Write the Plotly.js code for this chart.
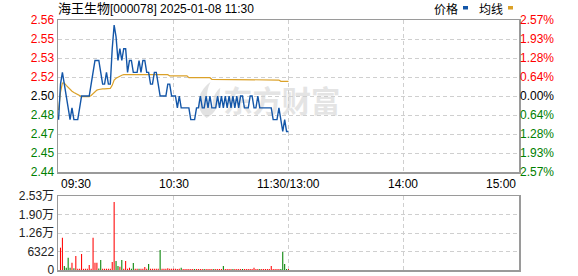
<!DOCTYPE html>
<html>
<head>
<meta charset="utf-8">
<script src="https://cdn.plot.ly/plotly-3.0.1.min.js"></script>
<style>
  html, body { margin: 0; padding: 0; background: #fff; }
  #chart { width: 578px; height: 276px; }
</style>
</head>
<body>
<div id="chart"></div>
<script>
// 海王生物 intraday minute chart, morning session 09:30-11:30
const stockName = '海王生物';
const stockCode = '000078';
const stamp = '2025-01-08 11:30';

const preClose = 2.50;   // previous close, centre line of the price panel
const maxPct = 2.57;     // half-range of the price panel, in percent

// last price for each minute from 09:30 (index 0) to 11:30 (index 120)
const price = [
  2.48, 2.51, 2.52, 2.51, 2.50, 2.49, 2.48, 2.49, 2.48, 2.48,
  2.48, 2.49, 2.50, 2.50, 2.50, 2.50, 2.50, 2.51, 2.52, 2.53,
  2.53, 2.53, 2.52, 2.51, 2.51, 2.52, 2.51, 2.51, 2.54, 2.56,
  2.55, 2.53, 2.54, 2.53, 2.54, 2.54, 2.52, 2.53, 2.53, 2.52,
  2.52, 2.52, 2.53, 2.52, 2.53, 2.53, 2.52, 2.52, 2.51, 2.51,
  2.52, 2.52, 2.51, 2.50, 2.50, 2.50, 2.50, 2.51, 2.51, 2.50,
  2.50, 2.50, 2.49, 2.50, 2.49, 2.49, 2.49, 2.49, 2.49, 2.48,
  2.48, 2.48, 2.49, 2.49, 2.50, 2.49, 2.49, 2.50, 2.49, 2.50,
  2.49, 2.49, 2.49, 2.50, 2.49, 2.50, 2.49, 2.50, 2.49, 2.50,
  2.49, 2.50, 2.49, 2.50, 2.49, 2.50, 2.50, 2.49, 2.49, 2.49,
  2.50, 2.50, 2.49, 2.49, 2.50, 2.49, 2.49, 2.49, 2.49, 2.49,
  2.49, 2.49, 2.48, 2.48, 2.48, 2.49, 2.48, 2.47, 2.48, 2.47,
  2.47
];

// running average price (均线) for the same minutes
const avgPrice = [
  2.488, 2.503, 2.511, 2.511, 2.509, 2.507, 2.505, 2.504, 2.503, 2.502,
  2.501, 2.500, 2.4995, 2.4995, 2.4995, 2.4995, 2.4995, 2.5005, 2.502, 2.5035,
  2.505, 2.5055, 2.506, 2.506, 2.506, 2.506, 2.506, 2.5065, 2.509, 2.5135,
  2.515, 2.516, 2.5168, 2.5175, 2.518, 2.518, 2.518, 2.518, 2.518, 2.518,
  2.518, 2.518, 2.518, 2.518, 2.518, 2.518, 2.518, 2.518, 2.518, 2.518,
  2.518, 2.518, 2.518, 2.518, 2.518, 2.518, 2.518, 2.518, 2.517, 2.517,
  2.517, 2.517, 2.517, 2.517, 2.517, 2.517, 2.517, 2.517, 2.5155, 2.5155,
  2.5155, 2.5155, 2.5155, 2.5155, 2.5155, 2.5155, 2.5155, 2.5155, 2.5155, 2.5155,
  2.5141, 2.5141, 2.5141, 2.5141, 2.5141, 2.5141, 2.5141, 2.5141, 2.5141, 2.5141,
  2.5141, 2.5141, 2.5141, 2.5141, 2.5141, 2.5141, 2.5141, 2.5141, 2.5141, 2.5141,
  2.5141, 2.5141, 2.5141, 2.5135, 2.5135, 2.5135, 2.5135, 2.5135, 2.5135, 2.5135,
  2.5135, 2.5135, 2.5135, 2.5135, 2.5135, 2.5135, 2.5124, 2.5124, 2.5124, 2.5124,
  2.5124
];

// traded volume per minute (shares ×100)
const volume = [
  0, 7630, 11040, 1370, 800, 4215, 800, 2500, 600, 4780,
  450, 400, 5470, 400, 400, 400, 1710, 400, 11040, 2500,
  2500, 500, 3420, 400, 400, 400, 400, 400, 2730, 23240,
  3075, 1370, 1140, 3420, 400, 3075, 400, 800, 400, 2390,
  400, 400, 400, 400, 400, 1025, 400, 2050, 400, 400,
  400, 400, 400, 6830, 400, 400, 400, 600, 400, 400,
  400, 400, 350, 400, 800, 350, 350, 350, 350, 350,
  350, 350, 350, 350, 350, 350, 350, 350, 350, 350,
  350, 350, 350, 350, 350, 350, 1370, 350, 350, 350,
  350, 350, 350, 350, 350, 350, 350, 350, 350, 350,
  350, 350, 800, 350, 350, 350, 350, 350, 350, 350,
  350, 1370, 350, 350, 350, 350, 350, 6150, 2050, 350,
  350
];

// tick direction of each minute: 1 = up (red), -1 = down (green)
const tickDir = [
  1, 1, 1, -1, -1, -1, -1, 1, -1, 1,
  1, 1, 1, 1, 1, 1, 1, 1, 1, 1,
  1, -1, -1, 1, 1, 1, 1, 1, 1, 1,
  -1, -1, 1, -1, 1, 1, 1, 1, -1, -1,
  1, 1, -1, 1, 1, 1, 1, -1, 1, 1,
  1, 1, 1, -1, 1, 1, 1, 1, 1, 1,
  1, 1, 1, 1, -1, 1, 1, 1, 1, 1,
  1, -1, 1, 1, 1, 1, -1, 1, 1, 1,
  1, -1, 1, 1, 1, 1, -1, 1, 1, 1,
  1, -1, 1, 1, 1, 1, -1, 1, 1, 1,
  1, 1, 1, 1, 1, -1, 1, 1, 1, 1,
  1, 1, 1, 1, 1, 1, -1, -1, -1, -1,
  1
];

// left-axis price labels, top to bottom
const priceLabels = ['2.56', '2.55', '2.53', '2.52', '2.50', '2.48', '2.47', '2.45', '2.44'];
// right-axis change labels, top to bottom
const pctLabels = ['2.57%', '1.93%', '1.28%', '0.64%', '0.00%', '0.64%', '1.28%', '1.93%', '2.57%'];
// volume axis labels, bottom to top
const volLabels = ['0', '6322', '1.26万', '1.90万', '2.53万'];
const volStep = 6322;
// time labels along the session axis (minutes from 09:30)
const timeLabels = ['09:30', '10:30', '11:30/13:00', '14:00', '15:00'];
const timeMinutes = [0, 60, 120, 180, 240];

const RED = '#ff0000';
const GREEN = '#008000';
const BLACK = '#000000';
const PRICE_BLUE = '#1356a8';
const AVG_GOLD = '#dba128';
const GRID = '#cfcfcf';
const FRAME = '#9a9a9a';
const NUM_FONT = 'Liberation Sans, Arial, Noto Sans CJK SC, sans-serif';
const CJK_FONT = 'Noto Sans CJK SC, Liberation Sans, sans-serif';

const minuteIdx = price.map((_, i) => i);

// price panel tick positions: 8 equal steps across ±maxPct around preClose
const priceTickVals = priceLabels.map((_, k) => preClose * (1 + (maxPct / 100) * (4 - k) / 4));
const priceRange = [preClose * (1 - maxPct / 100), preClose * (1 + maxPct / 100)];

function tone(k) { return k < 4 ? RED : (k === 4 ? BLACK : GREEN); }
const priceTickText = priceLabels.map((t, k) => `<span style="color:${tone(k)}">${t}</span>`);
const pctTickText = pctLabels.map((t, k) => `<span style="color:${tone(k)}">${t}</span>`);

const volTickVals = volLabels.map((_, k) => k * volStep);

// plot frame in pixels
const W = 578, H = 276;
const M = { l: 58, r: 59, t: 20, b: 6 };
const plotW = W - M.l - M.r, plotH = H - M.t - M.b;
const px = x => (x - M.l) / plotW;
const py = y => (H - M.b - y) / plotH;

const traces = [
  {
    type: 'bar', x: minuteIdx, y: volume, xaxis: 'x2', yaxis: 'y3',
    width: 0.55,
    marker: { color: tickDir.map(d => d > 0 ? RED : GREEN), line: { width: 0 } },
    hoverinfo: 'skip', showlegend: false
  },
  {
    type: 'scatter', mode: 'lines', x: minuteIdx, y: avgPrice, xaxis: 'x', yaxis: 'y',
    line: { color: AVG_GOLD, width: 1.2 }, name: '均线', hoverinfo: 'skip', showlegend: false
  },
  {
    type: 'scatter', mode: 'lines', x: minuteIdx, y: price, xaxis: 'x', yaxis: 'y',
    line: { color: PRICE_BLUE, width: 1.4 }, name: '价格', hoverinfo: 'skip', showlegend: false
  },
  {
    // invisible companion so the right-hand change axis is drawn
    type: 'scatter', mode: 'lines', x: [0], y: [preClose], xaxis: 'x', yaxis: 'y2',
    line: { width: 0 }, hoverinfo: 'skip', showlegend: false
  }
];

const xCommon = {
  range: [-0.3, 240.3], tickvals: [60, 120, 180], showticklabels: false, ticks: '',
  showgrid: true, gridcolor: GRID, griddash: '4px,3px', gridwidth: 1,
  showline: true, mirror: true, linecolor: FRAME, linewidth: 1.5,
  zeroline: false, fixedrange: true
};

// watermark: logo plus brand text, drawn beneath the data
const markSvg =
  '<svg xmlns="http://www.w3.org/2000/svg" width="160" height="40" viewBox="0 0 160 40">' +
  '<path d="M15 39 C3 30 4 13 19 2 C13 14 15 24 22 31 C20 22 22 14 29 8 C27 21 29 31 15 39 Z" fill="#e2e2e2"/>' +
  '<text x="32" y="33" font-family="Noto Sans CJK SC" font-weight="bold" font-size="30" fill="#e4e4e4">东方财富</text>' +
  '</svg>';
const markUri = 'data:image/svg+xml;charset=utf-8,' + encodeURIComponent(markSvg);

const annotations = timeLabels.map((t, i) => ({
  text: t, xref: 'x', yref: 'paper', x: timeMinutes[i], y: py(184),
  xanchor: i === 0 ? 'left' : (i === timeLabels.length - 1 ? 'right' : 'center'),
  yanchor: 'middle', showarrow: false,
  font: { family: NUM_FONT, size: 12, color: BLACK }
}));

annotations.push(
  { text: '价格', xref: 'paper', yref: 'paper', x: px(432), y: py(9), xanchor: 'left', yanchor: 'middle',
    showarrow: false, font: { family: CJK_FONT, size: 12, color: BLACK } },
  { text: '均线', xref: 'paper', yref: 'paper', x: px(477), y: py(9), xanchor: 'left', yanchor: 'middle',
    showarrow: false, font: { family: CJK_FONT, size: 12, color: BLACK } }
);

const shapes = [
  { type: 'rect', xref: 'paper', yref: 'paper', x0: px(463), x1: px(468), y0: py(9.5), y1: py(6),
    fillcolor: PRICE_BLUE, line: { width: 0 } },
  { type: 'rect', xref: 'paper', yref: 'paper', x0: px(508), x1: px(513), y0: py(9.5), y1: py(6),
    fillcolor: AVG_GOLD, line: { width: 0 } }
];

const layout = {
  width: W, height: H,
  margin: M,
  paper_bgcolor: '#ffffff', plot_bgcolor: 'rgba(0,0,0,0)',
  showlegend: false,
  title: {
    text: `<span style="font-size:13px">${stockName}</span>[${stockCode}] ${stamp}`,
    font: { family: NUM_FONT, size: 12, color: BLACK },
    xref: 'paper', x: 0, xanchor: 'left',
    yref: 'container', y: 1 - 9 / H, yanchor: 'middle'
  },
  xaxis: Object.assign({ anchor: 'y', domain: [0, 1] }, xCommon),
  xaxis2: Object.assign({ anchor: 'y3', domain: [0, 1] }, xCommon),
  yaxis: {
    domain: [py(172), 1], range: priceRange,
    tickvals: priceTickVals, ticktext: priceTickText, ticks: '',
    tickfont: { family: NUM_FONT, size: 12 }, ticklabeloverflow: 'allow',
    showgrid: true, gridcolor: GRID, griddash: '4px,3px', gridwidth: 1,
    showline: true, mirror: true, linecolor: FRAME, linewidth: 1.5,
    zeroline: false, fixedrange: true
  },
  yaxis2: {
    overlaying: 'y', side: 'right', anchor: 'x', range: priceRange,
    tickvals: priceTickVals, ticktext: pctTickText, ticks: '',
    tickfont: { family: NUM_FONT, size: 12 }, ticklabeloverflow: 'allow',
    showgrid: false, showline: false, zeroline: false, fixedrange: true
  },
  yaxis3: {
    domain: [0, py(196)], anchor: 'x2', range: [0, volStep * 4],
    tickvals: volTickVals, ticktext: volLabels, ticks: '',
    tickfont: { family: NUM_FONT, size: 12, color: '#222222' }, ticklabeloverflow: 'allow',
    showgrid: true, gridcolor: GRID, griddash: '4px,3px', gridwidth: 1,
    showline: true, mirror: true, linecolor: FRAME, linewidth: 1.5,
    zeroline: false, fixedrange: true
  },
  images: [{
    source: markUri, xref: 'paper', yref: 'paper',
    x: px(192), y: py(80), sizex: 156 / plotW, sizey: 39 / plotH,
    xanchor: 'left', yanchor: 'top', sizing: 'stretch', layer: 'below', opacity: 1
  }],
  annotations: annotations,
  shapes: shapes
};

Plotly.newPlot('chart', traces, layout, { staticPlot: true, displayModeBar: false });
</script>
</body>
</html>
